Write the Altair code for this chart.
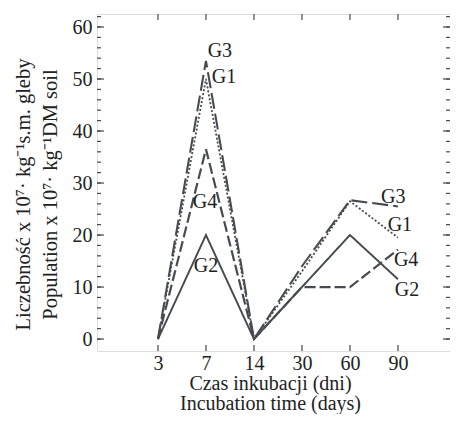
import altair as alt
import pandas as pd

days = ["3", "7", "14", "30", "60", "90"]
series = ["G1", "G2", "G3", "G4"]
g1 = [0, 50, 0, 13, 26.5, 19.5]
g2 = [0, 20, 0, 10, 20, 11.5]
g3 = [0, 53.5, 0, 14, 26.7, 25.5]
g4 = [0, 36.5, 0, 10, 10, 17.2]

# label anchors (x index, y value) for series labels
lab_text = ["G3", "G1", "G4", "G2", "G3", "G1", "G4", "G2"]
lab_x = [1.29, 1.375, 0.98, 1.0, 4.9, 5.04, 5.17, 5.19]
lab_y = [55.4, 50.4, 26.3, 14.0, 27.3, 21.9, 15.2, 9.4]

rows = []
for name, vals in zip(series, [g1, g2, g3, g4]):
    for i, v in enumerate(vals):
        rows.append({"series": name, "idx": i, "value": v})
df = pd.DataFrame(rows)
labels = pd.DataFrame({"text": lab_text, "x": lab_x, "y": lab_y})

ymajor = pd.DataFrame({"v": list(range(0, 61, 10))})
yminor = pd.DataFrame({"v": list(range(0, 63, 2))})
xt = pd.DataFrame({"idx": list(range(len(days)))})

W, H = 353, 337
XD = [-1.27, -1.27 + W / 48.0]
YD = [-2.3, 62.5]
LINE = "#454b50"
TXT = "#222222"
FONT = "Liberation Serif"

xs = alt.Scale(domain=XD, nice=False, zero=False)
ys = alt.Scale(domain=YD, nice=False, zero=False)

label_expr = "[" + ",".join("'%s'" % d for d in days) + "][datum.value]"

lines = alt.Chart(df).mark_line(color=LINE).encode(
    x=alt.X("idx:Q", scale=xs,
            axis=alt.Axis(values=list(range(len(days))), labelExpr=label_expr,
                          grid=False, domain=False, ticks=False,
                          labelFontSize=20, labelFont=FONT, labelColor=TXT, labelPadding=2,
                          title=["Czas inkubacji (dni)", "Incubation time (days)"],
                          titleFont=FONT, titleFontSize=20, titleFontWeight="normal",
                          titleColor=TXT, titleLineHeight=20, titleBaseline="top",
                          titleY=22, titleX=173)),
    y=alt.Y("value:Q", scale=ys,
            axis=alt.Axis(values=list(range(0, 61, 10)), grid=False, domain=False, ticks=False,
                          labelFontSize=20, labelFont=FONT, labelColor=TXT, labelPadding=5,
                          title=["Liczebność x 10⁷· kg⁻¹s.m. gleby",
                                 "Population  x 10⁷· kg⁻¹DM soil"],
                          titleFont=FONT, titleFontSize=20.5, titleFontWeight="normal",
                          titleColor=TXT, titleLineHeight=27, titlePadding=12, titleY=180)),
    strokeDash=alt.StrokeDash("series:N", scale=alt.Scale(
        domain=series, range=[[2, 2], [1, 0], [16, 5], [11, 4]]), legend=None),
    strokeWidth=alt.StrokeWidth("series:N", scale=alt.Scale(
        domain=series, range=[1.8, 2.2, 2.0, 2.0]), legend=None),
    detail="series:N",
)

text = alt.Chart(labels).mark_text(font=FONT, fontSize=20, color=TXT).encode(
    x=alt.X("x:Q", scale=xs), y=alt.Y("y:Q", scale=ys), text="text:N")

tk = dict(color=LINE, strokeWidth=1.2)
ymaj_l = alt.Chart(ymajor).mark_rule(**tk).encode(
    y=alt.Y("v:Q", scale=ys), x=alt.value(0), x2=alt.value(7))
ymaj_r = alt.Chart(ymajor).mark_rule(**tk).encode(
    y=alt.Y("v:Q", scale=ys), x=alt.value(W), x2=alt.value(W - 7))
ymin_l = alt.Chart(yminor).mark_rule(**tk).encode(
    y=alt.Y("v:Q", scale=ys), x=alt.value(0), x2=alt.value(4))
ymin_r = alt.Chart(yminor).mark_rule(**tk).encode(
    y=alt.Y("v:Q", scale=ys), x=alt.value(W), x2=alt.value(W - 4))
xt_b = alt.Chart(xt).mark_rule(**tk).encode(
    x=alt.X("idx:Q", scale=xs), y=alt.value(H), y2=alt.value(H - 6))
xt_t = alt.Chart(xt).mark_rule(**tk).encode(
    x=alt.X("idx:Q", scale=xs), y=alt.value(0), y2=alt.value(6))

chart = alt.layer(lines, text, ymaj_l, ymaj_r, ymin_l, ymin_r, xt_b, xt_t).properties(
    width=W, height=H,
    autosize=alt.AutoSizeParams(type="none"),
    padding={"left": 89, "top": 6, "right": 0, "bottom": 63},
).configure_view(stroke=LINE, strokeWidth=1.5).configure(background="white")

chart.save("out.html", embed_options={"renderer": "svg", "actions": False})
